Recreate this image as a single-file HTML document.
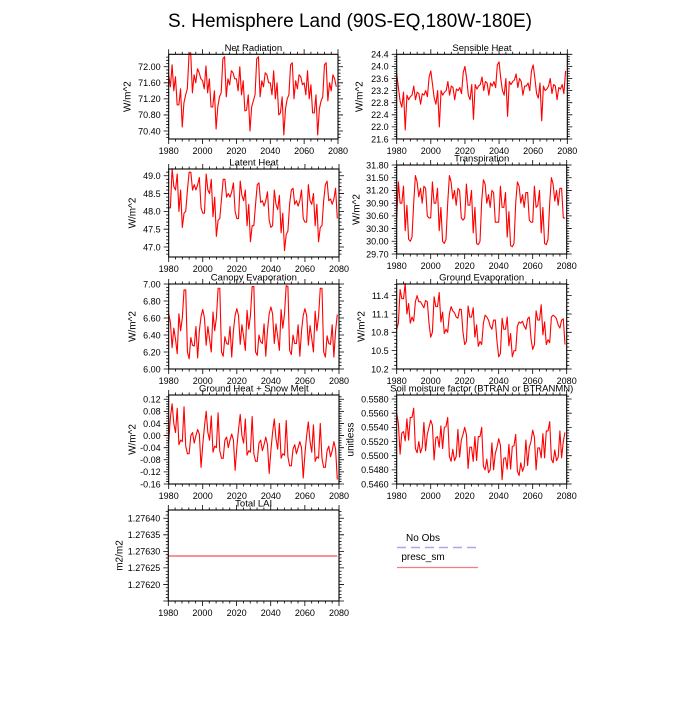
<!DOCTYPE html>
<html><head><meta charset="utf-8"><style>
html,body{margin:0;padding:0;background:#fff;}
svg text{font-family:"Liberation Sans",Arial,sans-serif;fill:#000;}
</style></head><body>
<svg id="chart" width="700" height="700" viewBox="0 0 700 700" xmlns="http://www.w3.org/2000/svg">
<rect width="700" height="700" fill="#fff"/>
<text x="350" y="27" font-size="19" text-anchor="middle">S. Hemisphere Land (90S-EQ,180W-180E)</text>
<g>
<text x="423" y="541" font-size="10" text-anchor="middle">No Obs</text>
<line x1="397" y1="547.5" x2="478" y2="547.5" stroke="#a8a8f0" stroke-width="1.5" stroke-dasharray="9,5"/>
<text x="423" y="560" font-size="10" text-anchor="middle">presc_sm</text>
<line x1="397" y1="567.5" x2="478" y2="567.5" stroke="#f08080" stroke-width="1.2"/>
</g>
</svg>
<script>
const years = [];
for (let y = 1980; y <= 2079; y++) years.push(y);
const xTicks = [1980, 2000, 2020, 2040, 2060, 2080];

const netRad = [71.8,71.5,72.05,71.4,71.75,71.05,71.05,71.45,70.5,71.1,71.3,71.45,72.3,72.35,71.35,71.8,71.6,71.95,71.85,71.7,
71.65,71.45,72.02,71.35,71.7,71.0,71.0,71.4,70.45,71.0,71.25,71.35,72.2,72.25,71.25,71.7,71.55,71.9,71.85,71.7,
71.7,71.4,72.0,71.3,71.65,70.9,70.92,71.3,70.4,71.0,71.15,71.3,72.2,72.25,71.25,71.65,71.5,71.85,71.8,71.6,
71.6,71.3,71.9,71.2,71.6,70.8,70.85,71.25,70.3,70.95,71.2,71.3,72.05,72.1,71.2,71.65,71.45,71.8,71.75,71.55,
71.6,71.3,71.9,71.2,71.55,70.85,70.85,71.3,70.3,70.95,71.15,71.25,72.05,72.1,71.15,71.6,71.4,71.8,71.7,71.5];
const sensible = [23.75,23.3,22.85,22.65,23.15,21.9,23.05,22.9,23.0,23.05,23.35,22.9,23.15,23.1,22.75,23.1,23.05,23.2,23.0,23.65,
23.85,23.4,22.95,22.75,23.2,22.0,23.2,23.05,23.15,23.2,23.5,23.05,23.35,23.3,22.9,23.25,23.2,23.3,23.1,23.8,
24.0,23.6,23.05,22.9,23.4,22.25,23.4,23.25,23.35,23.4,23.65,23.2,23.5,23.45,23.05,23.45,23.35,23.5,23.3,24.05,
24.15,23.6,23.2,23.05,23.6,22.35,23.5,23.4,23.5,23.55,23.75,23.3,23.6,23.5,23.05,23.35,23.35,23.45,23.2,23.85,
24.05,23.6,23.1,22.95,23.45,22.2,23.35,23.2,23.25,23.35,23.6,23.1,23.4,23.35,22.9,23.3,23.25,23.4,23.1,23.85];
const latent = [48.1,48.1,49.2,48.7,48.6,49.05,48.0,48.6,47.55,47.95,48.0,48.6,49.1,49.1,48.6,48.75,48.6,48.75,48.95,48.1,
47.95,47.95,49.05,48.6,48.5,48.9,47.85,48.4,47.3,47.75,47.8,48.35,48.9,48.9,48.4,48.5,48.4,48.55,48.8,48.0,
47.8,47.8,48.85,48.45,48.3,48.6,47.6,48.2,47.15,47.6,47.6,48.2,48.75,48.8,48.25,48.3,48.15,48.3,48.55,47.75,
47.55,47.6,48.6,48.2,48.05,48.45,47.4,47.95,46.9,47.35,47.45,48.2,48.6,48.65,48.2,48.3,48.15,48.3,48.6,47.8,
47.7,47.7,48.75,48.3,48.2,48.5,47.6,48.2,47.15,47.55,47.6,48.3,48.75,48.85,48.3,48.35,48.2,48.35,48.65,47.8];
const transp = [30.55,31.4,30.9,30.9,31.3,30.25,30.85,30.05,30.0,30.1,30.9,31.55,31.4,31.05,31.25,30.9,31.3,31.25,30.6,30.55,
30.55,31.4,30.9,30.9,31.25,30.25,30.8,30.0,29.95,30.05,30.9,31.55,31.4,31.0,31.2,30.85,31.25,31.2,30.55,30.5,
30.55,31.35,30.85,30.85,31.2,30.2,30.8,29.95,29.92,30.0,30.95,31.45,31.35,30.9,31.1,30.8,31.2,31.15,30.45,30.45,
30.45,31.3,30.8,30.8,31.15,30.1,30.7,29.9,29.87,29.95,30.9,31.4,31.3,30.9,31.1,30.8,31.15,31.15,30.5,30.45,
30.45,31.3,30.8,30.85,31.2,30.2,30.8,29.95,29.92,30.05,30.9,31.5,31.35,30.95,31.2,30.85,31.25,31.25,30.55,30.55];
const canopy = [6.65,6.55,6.25,6.48,6.35,6.18,6.65,6.45,6.6,6.93,6.93,6.2,6.12,6.37,6.28,6.27,6.5,6.13,6.45,6.62,
6.7,6.6,6.28,6.5,6.35,6.2,6.67,6.45,6.6,6.95,6.95,6.2,6.15,6.38,6.3,6.29,6.5,6.14,6.45,6.63,
6.71,6.63,6.29,6.52,6.38,6.22,6.69,6.47,6.63,6.97,6.97,6.2,6.16,6.4,6.32,6.3,6.53,6.15,6.45,6.65,
6.73,6.65,6.3,6.53,6.38,6.22,6.7,6.48,6.65,6.98,6.97,6.22,6.17,6.4,6.3,6.3,6.52,6.15,6.45,6.63,
6.71,6.63,6.28,6.51,6.36,6.2,6.68,6.45,6.62,6.95,6.95,6.2,6.14,6.39,6.3,6.29,6.52,6.14,6.45,6.64];
const groundEvap = [10.85,10.95,11.5,11.35,11.35,11.6,11.1,11.27,10.95,11.05,10.98,11.3,11.4,11.3,11.3,11.25,11.2,11.32,11.3,10.95,
10.72,10.8,11.38,11.22,11.22,11.45,10.97,11.13,10.78,10.85,10.8,11.1,11.22,11.15,11.12,11.05,11.03,11.18,11.17,10.8,
10.6,10.65,11.23,11.05,11.05,11.2,10.72,10.92,10.57,10.65,10.6,10.95,11.08,11.05,11.0,10.9,10.85,11.0,11.0,10.65,
10.4,10.45,11.03,10.85,10.85,11.05,10.58,10.78,10.4,10.5,10.5,10.9,10.97,10.95,10.98,10.9,10.85,11.02,11.05,10.7,
10.52,10.6,11.15,11.0,11.0,11.25,10.76,10.97,10.6,10.68,10.63,11.05,11.08,11.06,11.02,10.92,10.87,11.0,11.02,10.6];
const groundHeat = [-0.02,0.06,0.105,0.04,0.01,0.09,-0.03,-0.015,-0.02,0.095,-0.035,-0.06,-0.06,0.0,0.01,-0.025,0.0,0.02,0.005,-0.105,
-0.03,0.03,0.08,0.01,-0.015,0.065,-0.055,-0.035,-0.04,0.075,-0.05,-0.075,-0.075,-0.015,-0.005,-0.04,-0.015,0.005,-0.015,-0.115,
-0.04,0.02,0.07,0.0,-0.025,0.055,-0.065,-0.05,-0.055,0.063,-0.06,-0.085,-0.085,-0.025,-0.015,-0.05,-0.03,-0.005,-0.03,-0.125,
-0.05,0.01,0.055,-0.01,-0.045,0.04,-0.075,-0.06,-0.065,0.05,-0.07,-0.1,-0.1,-0.045,-0.03,-0.06,-0.04,-0.02,-0.04,-0.14,
-0.06,0.0,0.045,-0.02,-0.055,0.035,-0.085,-0.07,-0.075,0.04,-0.075,-0.105,-0.105,-0.05,-0.035,-0.07,-0.05,-0.02,-0.045,-0.145];
const soilMoist = [0.5560,0.5545,0.5502,0.5532,0.5534,0.5521,0.5552,0.5522,0.5554,0.5554,0.5567,0.5510,0.5504,0.5520,0.5504,0.5512,0.5547,0.5507,0.5530,0.5540,
0.5550,0.5543,0.5494,0.5525,0.5527,0.5512,0.5542,0.5510,0.5540,0.5541,0.5554,0.5499,0.5492,0.5509,0.5493,0.5499,0.5537,0.5498,0.5522,0.5530,
0.5540,0.5530,0.5482,0.5512,0.5512,0.5492,0.5527,0.5493,0.5527,0.5527,0.5540,0.5485,0.5480,0.5495,0.5476,0.5480,0.5518,0.5480,0.5503,0.5512,
0.5524,0.5515,0.5466,0.5496,0.5497,0.5481,0.5516,0.5481,0.5513,0.5514,0.5530,0.5478,0.5472,0.5490,0.5478,0.5485,0.5522,0.5486,0.5512,0.5520,
0.5536,0.5526,0.5480,0.5511,0.5511,0.5497,0.5531,0.5497,0.5535,0.5535,0.5548,0.5495,0.5490,0.5508,0.5493,0.5498,0.5535,0.5497,0.5520,0.5533];
const lai = years.map(() => 1.276286);

const netRadTicks = [70.4,70.8,71.2,71.6,72.0];
const sensibleTicks = [21.6,22.0,22.4,22.8,23.2,23.6,24.0,24.4];
const latentTicks = [47.0,47.5,48.0,48.5,49.0];
const transpTicks = [29.7,30.0,30.3,30.6,30.9,31.2,31.5,31.8];
const canopyTicks = [6.0,6.2,6.4,6.6,6.8,7.0];
const groundEvapTicks = [10.2,10.5,10.8,11.1,11.4];
const groundHeatTicks = [-0.16,-0.12,-0.08,-0.04,0.0,0.04,0.08,0.12];
const soilTicks = [0.546,0.548,0.55,0.552,0.554,0.556,0.558];
const laiTicks = [1.2762,1.27625,1.2763,1.27635,1.2764];

const panels = [
 {name:'net-radiation', title:'Net Radiation', data:netRad, ticks:netRadTicks, dec:2, ymin:70.2, ymax:72.31, box:[168.7,338,54.3,139], yl:'W/m^2', ylx:128},
 {name:'sensible-heat', title:'Sensible Heat', data:sensible, ticks:sensibleTicks, dec:1, ymin:21.6, ymax:24.4, box:[396.7,567.3,54.3,139], yl:'W/m^2', ylx:360},
 {name:'latent-heat', title:'Latent Heat', data:latent, ticks:latentTicks, dec:1, ymin:46.72, ymax:49.19, box:[168.7,339,169,257], yl:'W/m^2', ylx:133},
 {name:'transpiration', title:'Transpiration', data:transp, ticks:transpTicks, dec:2, ymin:29.7, ymax:31.8, box:[396.7,566.7,165,254], yl:'W/m^2', ylx:357},
 {name:'canopy-evaporation', title:'Canopy Evaporation', data:canopy, ticks:canopyTicks, dec:2, ymin:6.0, ymax:7.0, box:[168.7,339,284,369], yl:'W/m^2', ylx:133},
 {name:'ground-evaporation', title:'Ground Evaporation', data:groundEvap, ticks:groundEvapTicks, dec:1, ymin:10.2, ymax:11.59, box:[396.7,566.7,284,369], yl:'W/m^2', ylx:362},
 {name:'ground-heat-snow-melt', title:'Ground Heat + Snow Melt', data:groundHeat, ticks:groundHeatTicks, dec:2, ymin:-0.16, ymax:0.134, box:[168.7,339,395,484], yl:'W/m^2', ylx:133},
 {name:'soil-moisture-factor', title:'Soil moisture factor (BTRAN or BTRANMN)', data:soilMoist, ticks:soilTicks, dec:4, ymin:0.546, ymax:0.55857, box:[396.7,566.7,395,484], yl:'unitless', ylx:351},
 {name:'total-lai', title:'Total LAI', data:lai, ticks:laiTicks, dec:5, ymin:1.27615, ymax:1.276425, box:[168.3,339,510,601], yl:'m2/m2', ylx:120, light:true}
];

const NS = 'http://www.w3.org/2000/svg';
const svg = document.getElementById('chart');
function mk(tag, attrs, parent) {
  const e = document.createElementNS(NS, tag);
  for (const k in attrs) e.setAttribute(k, attrs[k]);
  parent.appendChild(e);
  return e;
}

panels.forEach(p => {
  const [x0, x1, y0, y1] = p.box;
  const xs = v => x0 + (v - 1980) / 100 * (x1 - x0);
  const ys = v => y1 - (v - p.ymin) / (p.ymax - p.ymin) * (y1 - y0);
  const g = mk('g', {}, svg);
  
  

  const t = mk('text', {x:(x0+x1)/2, y:y0-3.5, 'font-size':9.5, 'text-anchor':'middle'}, g);
  t.textContent = p.title;
  
  

  const yl = mk('text', {x:p.ylx, y:(y0+y1)/2, 'font-size':10, 'text-anchor':'middle', transform:`rotate(-90 ${p.ylx} ${(y0+y1)/2})`, 'dominant-baseline':'middle'}, g);
  yl.textContent = p.yl;
  
  

  let tk = '';
  for (let yr = 1980; yr <= 2080; yr += 4) {
    const X = xs(yr);
    const major = (yr - 1980) % 20 === 0;
    const L = major ? 5 : 2.5;
    tk += `M${X},${y1}v${L}M${X},${y0}v${-L}`;
  }
  xTicks.forEach(yr => {
    const lab = mk('text', {x:xs(yr), y:y1+15, 'font-size':9, 'text-anchor':'middle'}, g);
    lab.textContent = yr;
    
    
  });
  const step = p.ticks[1] - p.ticks[0];
  const minor = step / 5;
  const start = p.ticks[0] - 10 * minor;
  for (let i = 0; i < 200; i++) {
    const v = start + i * minor;
    if (v > p.ymax + 1e-9) break;
    if (v < p.ymin - 1e-9) continue;
    const Y = ys(v);
    const major = i % 5 === 0;
    const L = major ? 5 : 2.5;
    tk += `M${x0},${Y}h${-L}M${x1},${Y}h${L}`;
  }
  p.ticks.forEach(v => {
    const lab = mk('text', {x:x0-8, y:ys(v)+3.3, 'font-size':9, 'text-anchor':'end'}, g);
    lab.textContent = v.toFixed(p.dec);
    
    
  });
  const tp = mk('path', {d:tk, stroke:'#000', 'stroke-width':0.8, fill:'none'}, g);
  
  

  const d = p.data.map((v, i) => (i ? 'L' : 'M') + xs(years[i]).toFixed(2) + ',' + ys(v).toFixed(2)).join('');
  const line = mk('path', {d:d, stroke:p.light ? '#f07070' : '#ff0000', 'stroke-width':p.light ? 1.6 : 1.1, fill:'none', 'stroke-linejoin':'round'}, g);
  
  

  const fr = mk('rect', {x:x0, y:y0, width:x1-x0, height:y1-y0, fill:'none', stroke:'#000', 'stroke-width':1.1}, g);
  
  
});
</script>
</body></html>
